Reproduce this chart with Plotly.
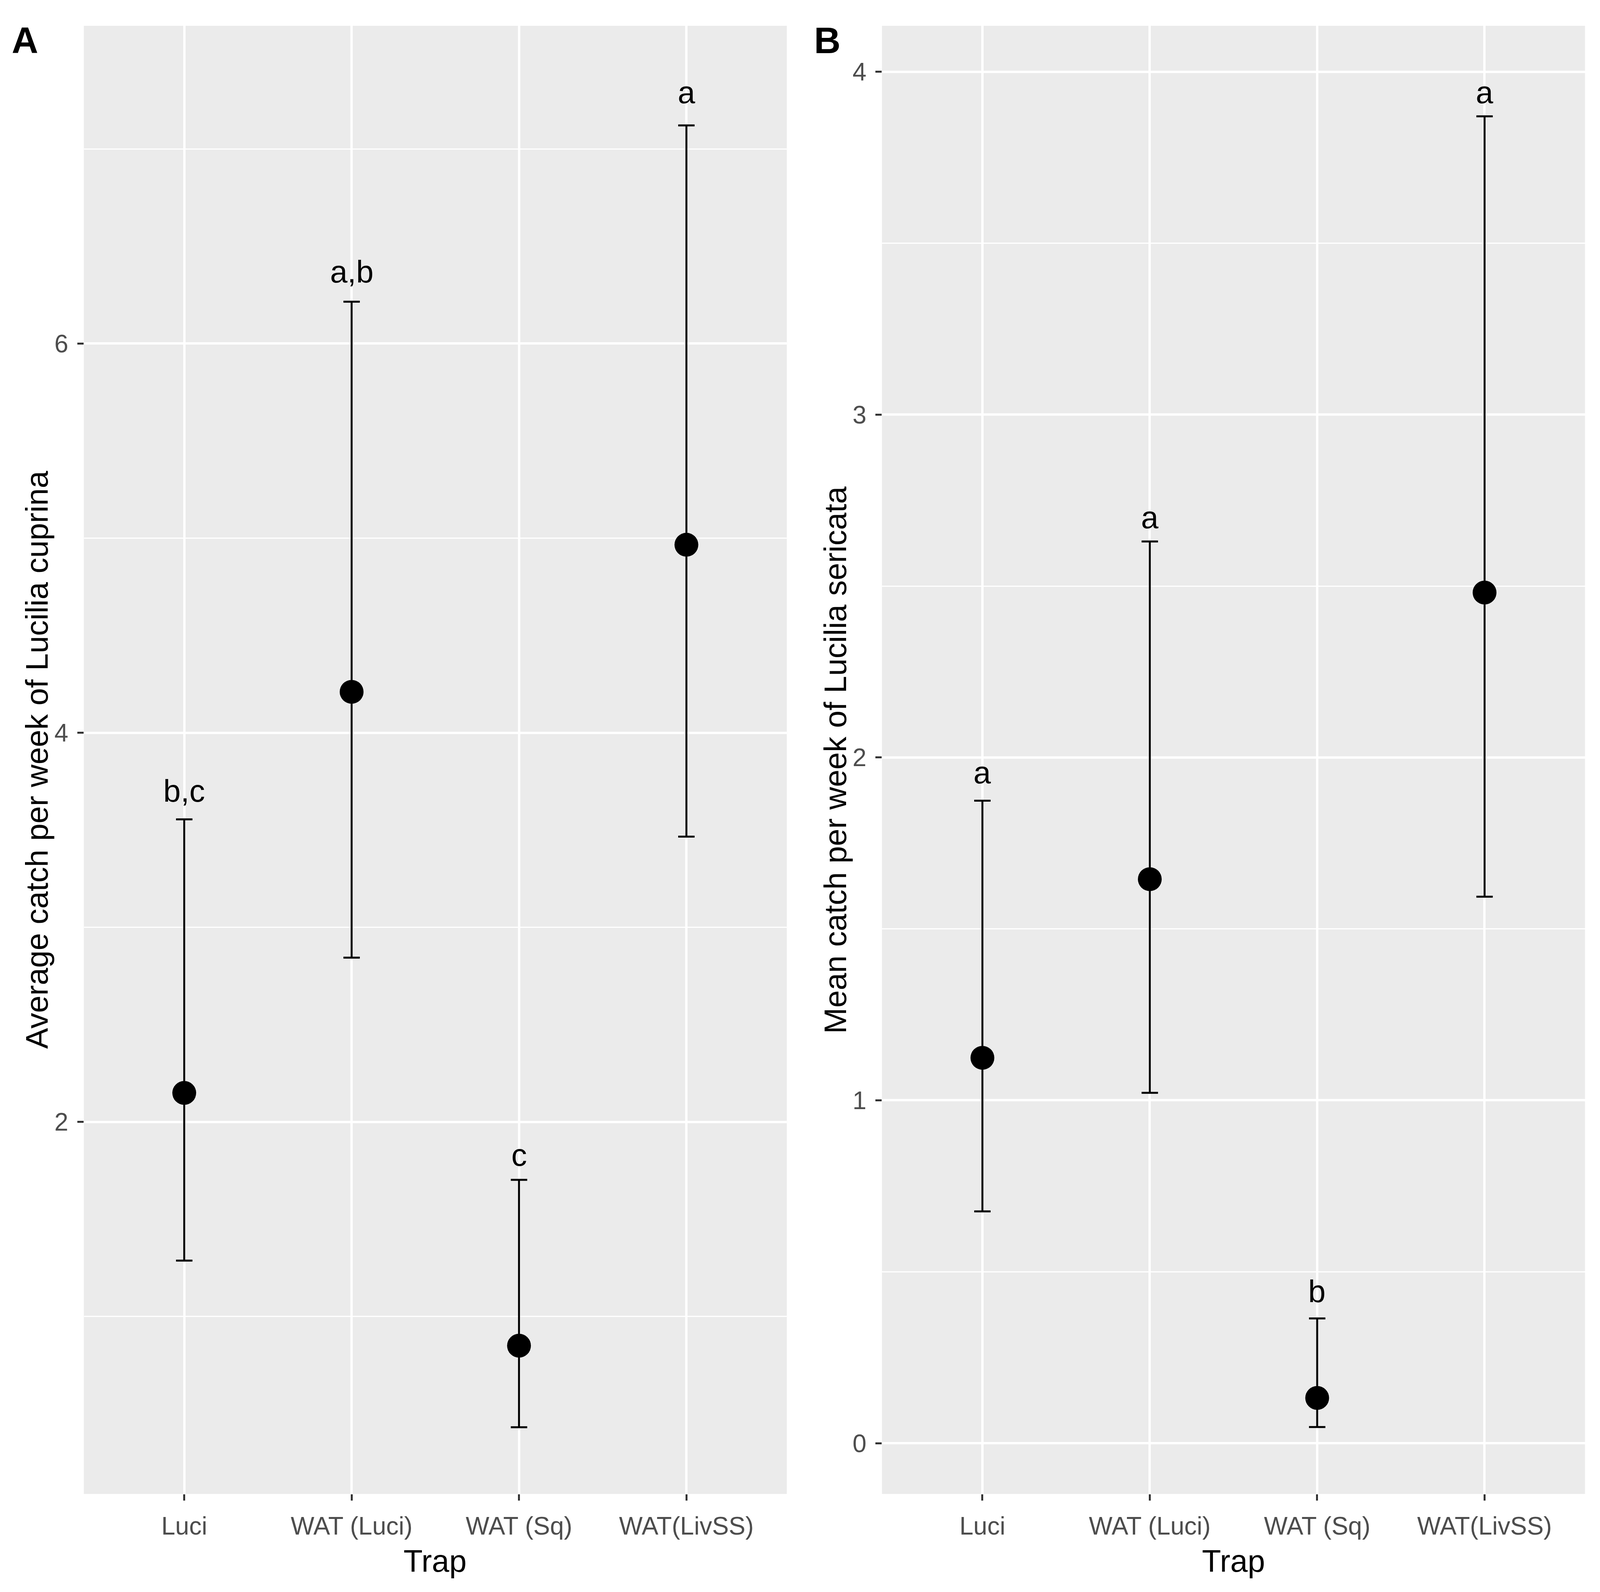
import plotly.graph_objects as go

traps = ["Luci", "WAT (Luci)", "WAT (Sq)", "WAT(LivSS)"]

# Panel A: Lucilia cuprina
cup_mean = [2.149, 4.210, 0.850, 4.966]
cup_upper = [3.555, 6.215, 1.702, 7.121]
cup_lower = [1.287, 2.844, 0.431, 3.466]
cup_letters = ["b,c", "a,b", "c", "a"]
cup_letter_y = [3.70, 6.37, 1.83, 7.29]

# Panel B: Lucilia sericata
ser_mean = [1.124, 1.645, 0.132, 2.481]
ser_upper = [1.874, 2.630, 0.364, 3.870]
ser_lower = [0.676, 1.022, 0.047, 1.594]
ser_letters = ["a", "a", "b", "a"]
ser_letter_y = [1.956, 2.70, 0.443, 3.94]

RW, H = 4372, 4075      # reference geometry (fractions computed from it)
W = 4096                # visible page width
FONT = "Liberation Sans, Arial, sans-serif"

fig = go.Figure()


def add_panel(mean, upper, lower, xa, ya):
    fig.add_trace(go.Scatter(
        x=traps, y=mean, mode="markers",
        marker=dict(color="black", size=61),
        error_y=dict(type="data", symmetric=False,
                     array=[u - m for u, m in zip(upper, mean)],
                     arrayminus=[m - l for m, l in zip(mean, lower)],
                     color="black", thickness=5, width=21),
        xaxis=xa, yaxis=ya, showlegend=False, hoverinfo="skip"))


add_panel(cup_mean, cup_upper, cup_lower, "x", "y")
add_panel(ser_mean, ser_upper, ser_lower, "x2", "y2")

tickfont = dict(family=FONT, size=64, color="#4D4D4D")
common_x = dict(type="category", range=[-0.6, 3.6], showgrid=True,
                gridcolor="white", gridwidth=5.5, zeroline=False,
                ticks="outside", ticklen=16, tickwidth=5, tickcolor="#333333",
                tickfont=tickfont, showline=False, ticklabelstandoff=10)
common_y = dict(showgrid=True, gridcolor="white", gridwidth=5.5, zeroline=False,
                ticks="outside", ticklen=16, tickwidth=5, tickcolor="#333333",
                tickfont=tickfont, showline=False, ticklabelstandoff=10)

ydom = [1 - 3824 / H, 1 - 66 / H]
fig.update_layout(
    width=W, height=H,
    margin=dict(l=0, r=0, t=0, b=0),
    paper_bgcolor="white", plot_bgcolor="#EBEBEB",
    font=dict(family=FONT),
    xaxis=dict(domain=[229 / RW, 2150 / RW], anchor="y", **common_x),
    xaxis2=dict(domain=[2410 / RW, 4331 / RW], anchor="y2", **common_x),
    yaxis=dict(domain=ydom, anchor="x", range=[0.088, 7.633],
               tickvals=[2, 4, 6],
               minor=dict(tickvals=[1, 3, 5, 7], showgrid=True,
                          gridcolor="white", gridwidth=2.8, ticks=""),
               **common_y),
    yaxis2=dict(domain=ydom, anchor="x2", range=[-0.148, 4.134],
                tickvals=[0, 1, 2, 3, 4],
                minor=dict(tickvals=[0.5, 1.5, 2.5, 3.5], showgrid=True,
                           gridcolor="white", gridwidth=2.8, ticks=""),
                **common_y),
)

ann = []
for t, lab, yy in zip(traps, cup_letters, cup_letter_y):
    ann.append(dict(x=t, y=yy, xref="x", yref="y", text=lab, showarrow=False,
                    font=dict(family=FONT, size=80, color="black"),
                    xanchor="center", yanchor="middle"))
for t, lab, yy in zip(traps, ser_letters, ser_letter_y):
    ann.append(dict(x=t, y=yy, xref="x2", yref="y2", text=lab, showarrow=False,
                    font=dict(family=FONT, size=80, color="black"),
                    xanchor="center", yanchor="middle"))

ymid = (ydom[0] + ydom[1]) / 2
ann += [
    dict(x=100 / RW, y=ymid, xref="paper", yref="paper",
         text="Average catch per week of Lucilia cuprina", textangle=-90,
         showarrow=False, font=dict(family=FONT, size=80, color="black"),
         xanchor="center", yanchor="middle"),
    dict(x=2282 / RW, y=ymid, xref="paper", yref="paper",
         text="Mean catch per week of Lucilia sericata", textangle=-90,
         showarrow=False, font=dict(family=FONT, size=80, color="black"),
         xanchor="center", yanchor="middle"),
    dict(x=(229 + 2150) / 2 / RW, y=1 - 3995 / H, xref="paper", yref="paper",
         text="Trap", showarrow=False,
         font=dict(family=FONT, size=80, color="black"),
         xanchor="center", yanchor="middle"),
    dict(x=(2410 + 4331) / 2 / RW, y=1 - 3995 / H, xref="paper", yref="paper",
         text="Trap", showarrow=False,
         font=dict(family=FONT, size=80, color="black"),
         xanchor="center", yanchor="middle"),
    dict(x=68 / RW, y=1 - 104 / H, xref="paper", yref="paper",
         text="<b>A</b>", showarrow=False,
         font=dict(family=FONT, size=94, color="black"),
         xanchor="center", yanchor="middle"),
    dict(x=2261 / RW, y=1 - 104 / H, xref="paper", yref="paper",
         text="<b>B</b>", showarrow=False,
         font=dict(family=FONT, size=94, color="black"),
         xanchor="center", yanchor="middle"),
]
fig.update_layout(annotations=ann)

css = ("document.body.style.margin='0';"
       "document.body.style.overflow='hidden';"
       "document.documentElement.style.overflow='hidden';")
fig.write_html("out.html", post_script=css,
               config={"displayModeBar": False})
